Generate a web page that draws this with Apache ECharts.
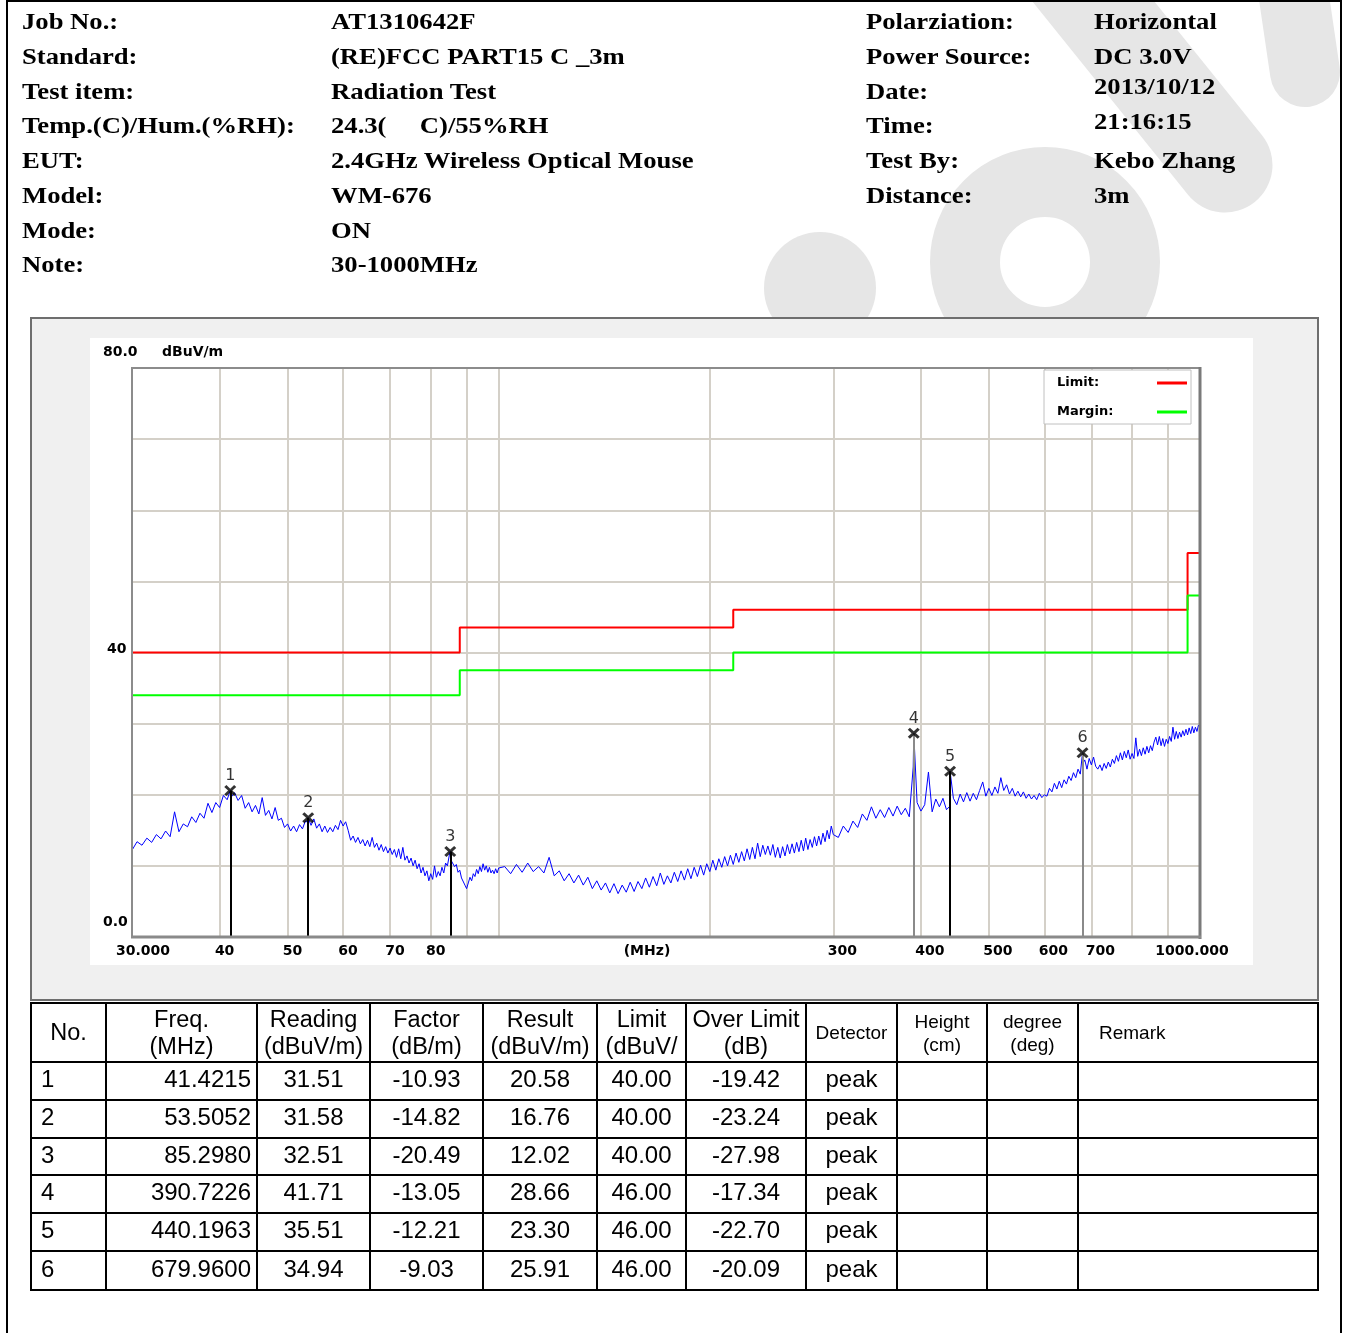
<!DOCTYPE html>
<html>
<head>
<meta charset="utf-8">
<title>AT1310642F Radiation Test</title>
<script src="https://cdn.jsdelivr.net/npm/echarts@6.0.0/dist/echarts.min.js"></script>
<style>
    html, body { margin: 0; padding: 0; background: #ffffff; }
    body { position: relative; width: 1346px; height: 1333px; overflow: hidden; }
    #chart { position: absolute; left: 0; top: 0; width: 1346px; height: 1333px; }
    #sheet { position: absolute; left: 0; top: 0; width: 1346px; height: 1333px; }
    .frame { position: absolute; left: 6px; top: 0; width: 1332px; height: 1345px; border: 2px solid #000; border-bottom: 0; }
    .info { position: absolute; height: 26px; line-height: 26px; white-space: pre; color: #000;
            font: bold 24px "Liberation Serif", "Times New Roman", serif; transform: scaleX(1.11); transform-origin: 0 0; }
    .cell { position: absolute; box-sizing: border-box; color: #000; white-space: pre; overflow: hidden;
            font-family: "Liberation Sans", Arial, sans-serif; }
    .rule { position: absolute; background: #000; }
</style>
</head>
<body>
<div id="chart"></div>
<div id="sheet"><div class="frame"></div></div>
<script>
// ---- report header ----
var infoLeftLabels = ['Job No.:', 'Standard:', 'Test item:', 'Temp.(C)/Hum.(%RH):', 'EUT:', 'Model:', 'Mode:', 'Note:'];
var infoLeftValues = ['AT1310642F', '(RE)FCC PART15 C _3m', 'Radiation Test', '24.3(     C)/55%RH',
    '2.4GHz Wireless Optical Mouse', 'WM-676', 'ON', '30-1000MHz'];
var infoRightLabels = ['Polarziation:', 'Power Source:', 'Date:', 'Time:', 'Test By:', 'Distance:'];
var infoRightValues = ['Horizontal', 'DC 3.0V', '2013/10/12', '21:16:15', 'Kebo Zhang', '3m'];

// ---- measured trace (dBuV/m), three sweep bands ----
var bandAStart = 30, bandAStep = 0.5;
var bandALevels = [
    12.2, 13.4, 12.9, 13.9, 13.3, 14.4, 13.8, 14.9, 14.1, 17.6,
    14.8, 15.9, 15.5, 16.9, 16.1, 17.4, 16.7, 18.8, 17.5, 18.9,
    18.2, 19.9, 19.3, 19.6, 20.3, 19.2, 19.9, 18.1, 18.9, 17.6,
    18.5, 17.3, 19.6, 17.1, 17.8, 16.6, 18.2, 16.4, 16.7, 15.4,
    15.9, 14.9, 15.6, 14.8, 15.8, 15.2, 16.3, 16.1, 15.7, 16.6,
    15.3, 15.9, 14.8, 15.6, 14.7, 15.4, 14.8, 15.7, 15.1, 16.4,
    15.6, 16.2, 15.0, 13.6, 14.2, 13.3, 14.0, 13.1, 13.7, 12.8,
    13.6, 12.7, 14.0, 12.6, 13.2, 12.2, 13.0, 12.0, 12.7, 11.8,
    12.5, 11.6, 12.3, 11.2, 12.4, 11.0, 12.6, 10.8, 11.4, 10.4,
    11.1, 10.0, 10.8, 9.6, 10.3, 9.0, 9.8, 8.6, 9.3, 7.9,
    8.9, 8.1, 10.0, 8.4, 9.2, 8.6, 9.8, 9.0, 10.4, 10.0,
    11.4, 10.8, 10.9, 9.9, 10.2, 9.1, 9.4, 8.3, 8.1, 7.3,
    6.8, 7.6, 8.4, 7.9, 8.9, 8.5, 9.5, 8.9, 9.9, 9.2,
    10.3, 9.4, 10.0, 9.1, 9.8, 9.0, 9.4, 8.9, 9.6, 9.0,
    9.7
];
var bandBStart = 102, bandBStep = 2;
var bandBLevels = [
    9.9, 8.9, 10.2, 9.1, 10.4, 9.2, 9.9, 9.0, 11.2, 8.6,
    9.3, 7.9, 8.9, 7.6, 8.7, 7.3, 8.4, 6.8, 7.9, 6.6,
    7.6, 6.2, 7.5, 6.1, 7.3, 6.3, 7.7, 6.4, 7.8, 6.8,
    8.3, 7.0, 8.5, 7.2, 9.0, 7.4, 8.6, 7.6, 9.1, 7.8,
    9.3, 8.0, 9.6, 8.2, 9.8, 8.5, 10.1, 8.7, 10.3, 9.2,
    10.8, 9.4, 11.0, 9.8, 11.3, 10.0, 11.5, 10.2, 11.8, 10.5,
    12.0, 10.7, 12.4, 10.9, 12.6, 11.0, 13.2, 11.3, 12.9, 11.6,
    12.8, 11.5, 13.0, 11.2, 12.6, 11.1, 12.7, 11.4, 13.0, 11.7,
    13.1, 11.8, 13.3, 12.0, 13.6, 12.1, 13.9, 12.3, 13.7, 12.6,
    14.1, 12.8, 14.2, 13.0, 14.6, 13.4, 15.0, 13.8, 15.6, 14.4
];
var bandCStart = 305, bandCStep = 5;
var bandCLevels = [
    14.0, 15.6, 14.7, 16.3, 15.4, 17.3, 16.4, 18.3, 16.7, 17.9,
    16.8, 18.2, 17.0, 18.4, 17.2, 18.1, 16.9, 23.9, 18.9, 17.7,
    18.6, 23.2, 17.6, 19.4, 18.3, 19.5, 17.9, 18.4, 19.5, 18.6,
    20.1, 19.0, 20.3, 19.1, 20.2, 19.3, 20.6, 21.8, 19.8, 20.9,
    19.9, 21.1, 20.2, 22.4, 20.6, 21.4, 20.1, 20.9, 19.8, 20.5,
    19.7, 20.4, 19.5, 20.1, 19.4, 19.9, 19.3, 20.2, 19.6, 20.0,
    19.8, 20.9, 20.4, 21.6, 20.8, 21.9, 21.0, 22.1, 21.5, 22.6,
    22.0, 23.1, 22.4, 23.6, 22.9, 24.3, 24.9, 23.6, 25.1, 24.2,
    25.3, 24.0, 23.6, 24.2, 23.4, 24.4, 23.7, 24.6, 23.9, 25.0,
    24.4, 25.5, 24.7, 25.9, 24.9, 26.1, 25.2, 26.3, 25.0, 25.8,
    25.1, 28.0, 25.4, 26.4, 25.5, 26.6, 25.7, 26.8, 25.9, 26.9,
    26.2, 27.4, 28.1, 27.0, 28.2, 26.9, 27.9, 26.8, 27.8, 27.2,
    28.2, 27.5, 29.5, 27.8, 28.9, 27.9, 28.8, 28.1, 29.0, 28.3,
    29.2, 28.4, 29.4, 28.6, 29.6, 28.7, 29.5, 28.9, 29.8, 29.4
];

// ---- limit lines (FCC class B @3m) ----
var limitFreqs = [30, 88, 216, 960, 1000];
var limitLevels = [40, 43.5, 46, 54, 54];
var marginLevels = [34, 37.5, 40, 48, 48];

// ---- peak markers / table rows ----
var markerFreqs = [41.4215, 53.5052, 85.2980, 390.7226, 440.1963, 679.9600];
var markerReadings = [31.51, 31.58, 32.51, 41.71, 35.51, 34.94];
var markerFactors = [-10.93, -14.82, -20.49, -13.05, -12.21, -9.03];
var markerResults = [20.58, 16.76, 12.02, 28.66, 23.30, 25.91];
var markerLimits = [40.00, 40.00, 40.00, 46.00, 46.00, 46.00];
var markerOverLimits = [-19.42, -23.24, -27.98, -17.34, -22.70, -20.09];
var markerDetectors = ['peak', 'peak', 'peak', 'peak', 'peak', 'peak'];

// ---- axes ----
var xGridFreqs = [30, 40, 50, 60, 70, 80, 90, 100, 200, 300, 400, 500, 600, 700, 800, 900, 1000];
var xLabelFreqs = [30, 40, 50, 60, 70, 80, 300, 400, 500, 600, 700, 1000];
var xLabelTexts = ['30.000', '40', '50', '60', '70', '80', '300', '400', '500', '600', '700', '1000.000'];
var yTickValues = [80, 40, 0];
var yTickLabels = ['80.0', '40', '0.0'];

// ---- styles ----
var dropLineColors = ['#000000', '#000000', '#000000', '#8a8a8a', '#000000', '#8a8a8a'];
var yLabelLeft = [103, 107, 103];
var yLabelShift = [-16, -3, -15];
var gridColor = '#d4d0c8';
var smallBold = 'bold 14px "DejaVu Sans"';
var wmColor = '#e6e6e6';

// header text
var sheet = document.getElementById('sheet');
function addInfo(text, x, yc) {
    var d = document.createElement('div');
    d.className = 'info';
    d.style.left = x + 'px';
    d.style.top = (yc - 13) + 'px';
    d.textContent = text;
    sheet.appendChild(d);
}
var leftRowsY = [21, 56, 91, 125, 160, 195, 230, 264];
infoLeftLabels.forEach(function (t, i) { addInfo(t, 22, leftRowsY[i]); });
infoLeftValues.forEach(function (t, i) { addInfo(t, 331, leftRowsY[i]); });
var rightLabelY = [21, 56, 91, 125, 160, 195];
var rightValueY = [21, 56, 86, 121, 160, 195];
infoRightLabels.forEach(function (t, i) { addInfo(t, 866, rightLabelY[i]); });
infoRightValues.forEach(function (t, i) { addInfo(t, 1094, rightValueY[i]); });

// result table
var tableCols = [31, 106, 257, 370, 483, 597, 686, 806, 897, 987, 1078, 1318];
var tableRows = [1003, 1062, 1100, 1138, 1175, 1213, 1251, 1290];
var headTitles = ['No.', 'Freq.\n(MHz)', 'Reading\n(dBuV/m)', 'Factor\n(dB/m)', 'Result\n(dBuV/m)', 'Limit\n(dBuV/',
    'Over Limit\n(dB)', 'Detector', 'Height\n(cm)', 'degree\n(deg)', 'Remark'];

function rule(x, y, w, h) {
    var d = document.createElement('div');
    d.className = 'rule';
    d.style.left = x + 'px'; d.style.top = y + 'px';
    d.style.width = w + 'px'; d.style.height = h + 'px';
    sheet.appendChild(d);
}
function cell(text, c, y0, y1, size, lh, align, pad, dy) {
    var d = document.createElement('div');
    var n = text.split('\n').length;
    d.className = 'cell';
    d.style.left = (tableCols[c] + 1) + 'px';
    d.style.width = (tableCols[c + 1] - tableCols[c] - 2) + 'px';
    d.style.top = (y0 + (y1 - y0 - n * lh) / 2 + dy) + 'px';
    d.style.height = (n * lh) + 'px';
    d.style.fontSize = size + 'px';
    d.style.lineHeight = lh + 'px';
    d.style.textAlign = align;
    if (align === 'left') d.style.paddingLeft = pad + 'px';
    if (align === 'right') d.style.paddingRight = pad + 'px';
    d.textContent = text;
    sheet.appendChild(d);
}
tableCols.forEach(function (x) {
    rule(x - 1, tableRows[0] - 1, 2, tableRows[tableRows.length - 1] - tableRows[0] + 2);
});
tableRows.forEach(function (y) {
    rule(tableCols[0] - 1, y - 1, tableCols[tableCols.length - 1] - tableCols[0] + 2, 2);
});
headTitles.forEach(function (t, c) {
    var small = c >= 7;
    cell(t, c, tableRows[0], tableRows[1], small ? 19 : 23.5, small ? 23 : 27,
        c === 10 ? 'left' : 'center', 20, 0);
});
markerFreqs.forEach(function (f, r) {
    var row = [String(r + 1), f.toFixed(4), markerReadings[r].toFixed(2), markerFactors[r].toFixed(2),
        markerResults[r].toFixed(2), markerLimits[r].toFixed(2), markerOverLimits[r].toFixed(2),
        markerDetectors[r], '', '', ''];
    row.forEach(function (t, c) {
        var align = c === 0 ? 'left' : (c === 1 ? 'right' : 'center');
        cell(t, c, tableRows[r + 1], tableRows[r + 2], 24, 28, align, c === 0 ? 9 : 5, -2);
    });
});

// chart
function band(start, step, levels) {
    return levels.map(function (v, i) { return [+(start + i * step).toFixed(2), v]; });
}
var traceData = band(bandAStart, bandAStep, bandALevels)
    .concat(band(bandBStart, bandBStep, bandBLevels))
    .concat(band(bandCStart, bandCStep, bandCLevels))
    .concat(markerFreqs.map(function (f, i) { return [f, markerResults[i]]; }));
traceData.sort(function (a, b) { return a[0] - b[0]; });

var labelFont = { color: '#000', fontFamily: 'DejaVu Sans', fontWeight: 'bold', fontSize: 14 };
function withFont(extra, base) { return Object.assign({}, base || labelFont, extra); }
var legendFont = { color: '#000', fontFamily: 'DejaVu Sans', fontWeight: 'bold', fontSize: 13, lineHeight: 16 };

var chart = echarts.init(document.getElementById('chart'));
var option = {
    animation: false,
    backgroundColor: '#ffffff',
    grid: { left: 132, top: 368, width: 1068, height: 569, show: false },
    legend: {
        data: ['Limit', 'Margin'],
        left: 1044, top: 370,
        orient: 'vertical', align: 'right',
        icon: 'rect', itemWidth: 30, itemHeight: 3, itemGap: 13,
        padding: [5, 4, 4, 13],
        backgroundColor: '#ffffff', borderColor: '#c0c0c0', borderWidth: 1,
        selectedMode: false,
        formatter: function (name) { return '{t|' + name + ':}'; },
        textStyle: withFont({ rich: { t: withFont({ width: 95, align: 'left' }, legendFont) } }, legendFont)
    },
    xAxis: {
        type: 'log', logBase: 10, min: 30, max: 1000,
        axisLine: { show: false },
        axisTick: { show: false, customValues: xGridFreqs },
        splitLine: { show: true, lineStyle: { color: gridColor, width: 2 } },
        axisLabel: {
            customValues: xLabelFreqs,
            showMinLabel: true, showMaxLabel: true,
            margin: 7,
            color: '#000', fontFamily: 'DejaVu Sans', fontWeight: 'bold', fontSize: 14,
            formatter: function (v) {
                var best = 0;
                xLabelFreqs.forEach(function (f, i) {
                    if (Math.abs(f - v) < Math.abs(xLabelFreqs[best] - v)) best = i;
                });
                var key = best === 0 ? 'first' : (best === xLabelFreqs.length - 1 ? 'last' : (xLabelFreqs[best] >= 100 ? 'wide' : 'mid'));
                return '{' + key + '|' + xLabelTexts[best] + '}';
            },
            rich: {
                first: withFont({ padding: [0, 0, 0, 22] }),
                last: withFont({ padding: [0, 16, 0, 0] }),
                wide: withFont({ padding: [0, 0, 0, 18] }),
                mid: withFont({ padding: [0, 0, 0, 10] })
            }
        }
    },
    yAxis: {
        type: 'value', min: 0, max: 80, interval: 10,
        axisLine: { show: false },
        axisTick: { show: false },
        axisLabel: { show: false },
        splitLine: { show: true, lineStyle: { color: gridColor, width: 2 } }
    },
    series: [
        {
            name: 'Limit', type: 'line', step: 'end', z: 3,
            data: limitFreqs.map(function (f, i) { return [f, limitLevels[i]]; }),
            showSymbol: false, symbol: 'none',
            color: '#ff0000', itemStyle: { color: '#ff0000' },
            lineStyle: { color: '#ff0000', width: 2 }
        },
        {
            name: 'Margin', type: 'line', step: 'end', z: 3,
            data: limitFreqs.map(function (f, i) { return [f, marginLevels[i]]; }),
            showSymbol: false, symbol: 'none',
            color: '#00ff00', itemStyle: { color: '#00ff00' },
            lineStyle: { color: '#00ff00', width: 2 }
        },
        {
            name: 'Level', type: 'line', z: 4,
            data: traceData,
            showSymbol: false, symbol: 'none',
            color: '#0000ff',
            lineStyle: { color: '#0000ff', width: 1 }
        },
        {
            name: 'Peaks', type: 'scatter', z: 6,
            data: markerFreqs.map(function (f, i) { return [f, markerResults[i]]; }),
            symbol: 'path://M0,1.8L1.8,0L5,3.2L8.2,0L10,1.8L6.8,5L10,8.2L8.2,10L5,6.8L1.8,10L0,8.2L3.2,5Z',
            symbolSize: [12, 11],
            itemStyle: { color: '#000000' },
            label: {
                show: true, position: 'top', distance: 1,
                formatter: function (p) { return String(p.dataIndex + 1); },
                color: '#000', fontFamily: 'DejaVu Sans', fontSize: 16
            },
            markLine: {
                silent: true, symbol: ['none', 'none'], animation: false,
                label: { show: false },
                lineStyle: { width: 2, type: 'solid' },
                data: markerFreqs.map(function (f, i) {
                    return [
                        { coord: [f, 0], lineStyle: { color: dropLineColors[i], width: 2, type: 'solid' } },
                        { coord: [f, markerResults[i]] }
                    ];
                })
            }
        }
    ]
};
chart.setOption(option);

// decorations: panel, frame, watermark, axis captions
var elements = [
    // faint logo watermark behind the header
    { type: 'circle', z: -30, shape: { cx: 820, cy: 288, r: 56 }, style: { fill: wmColor } },
    { type: 'circle', z: -30, shape: { cx: 1045, cy: 262, r: 80 }, style: { fill: 'none', stroke: wmColor, lineWidth: 70 } },
    { type: 'line', z: -30, shape: { x1: 1060, y1: -40, x2: 1225, y2: 165 }, style: { stroke: wmColor, lineWidth: 95, lineCap: 'round' } },
    { type: 'line', z: -30, shape: { x1: 1290, y1: -30, x2: 1305, y2: 72 }, style: { stroke: wmColor, lineWidth: 70, lineCap: 'round' } },
    // gray outer frame and white panel
    { type: 'rect', z: -20, shape: { x: 31, y: 318, width: 1287, height: 682 }, style: { fill: '#f0f0f0', stroke: '#6e6e6e', lineWidth: 2 } },
    { type: 'rect', z: -19, shape: { x: 90, y: 338, width: 1163, height: 627 }, style: { fill: '#ffffff' } },
    // plot border
    { type: 'rect', z: 50, shape: { x: 132, y: 368, width: 1068, height: 569 }, style: { fill: 'none', stroke: '#8c8c8c', lineWidth: 2 } },
    { type: 'line', z: 50, shape: { x1: 1200, y1: 367, x2: 1200, y2: 939 }, style: { stroke: '#7a7a7a', lineWidth: 3 } },
    { type: 'line', z: 50, shape: { x1: 131, y1: 937, x2: 1201, y2: 937 }, style: { stroke: '#8a8a8a', lineWidth: 3 } },
    { type: 'text', z: 60, x: 647, y: 951, style: { text: '(MHz)', font: smallBold, fill: '#000', align: 'center', verticalAlign: 'middle', textAlign: 'center', textVerticalAlign: 'middle' } },
    { type: 'text', z: 60, x: 162, y: 352, style: { text: 'dBuV/m', font: smallBold, fill: '#000', align: 'left', verticalAlign: 'middle', textAlign: 'left', textVerticalAlign: 'middle' } }
];
yTickValues.forEach(function (v, i) {
    var p = chart.convertToPixel({ gridIndex: 0 }, [30, v]);
    elements.push({
        type: 'text', z: 60, x: yLabelLeft[i], y: p[1] + yLabelShift[i],
        style: { text: yTickLabels[i], font: smallBold, fill: '#000', align: 'left', verticalAlign: 'middle', textAlign: 'left', textVerticalAlign: 'middle' }
    });
});
chart.setOption({ graphic: { elements: elements } });
</script>
</body>
</html>
